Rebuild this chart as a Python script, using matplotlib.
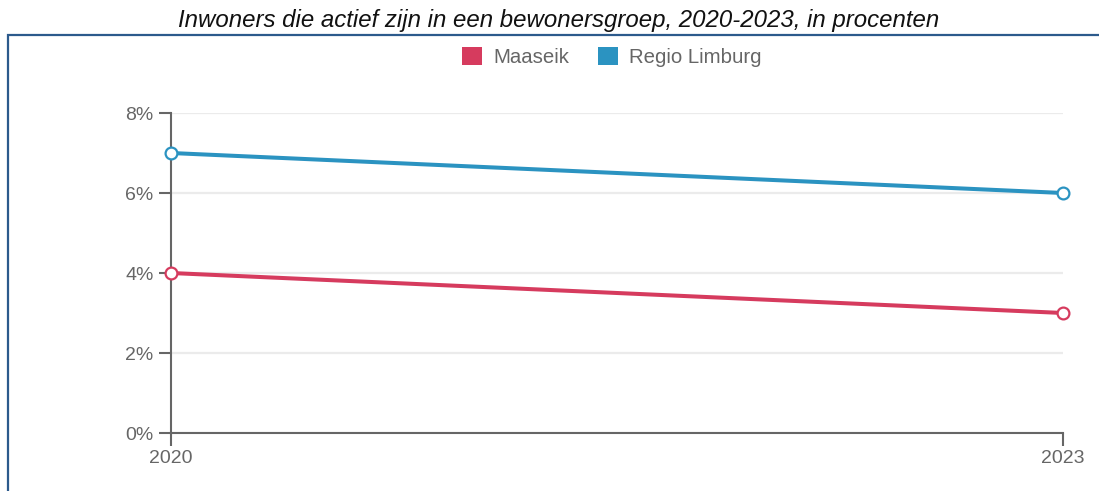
#! /usr/bin/env python3
# -*- coding: utf-8 -*-
import matplotlib
matplotlib.use('Agg')
import matplotlib.pyplot as plt
from matplotlib.patches import Rectangle, Patch
from matplotlib.ticker import FuncFormatter

plt.rcParams['font.family'] = ['Liberation Sans', 'DejaVu Sans']

Title = 'Inwoners die actief zijn in een bewonersgroep, 2020-2023, in procenten'
Years = [2020, 2023]
Series_names = ['Maaseik', 'Regio Limburg']
Maaseik = [4, 3]
Regio_limburg = [7, 6]
Y_ticks = [0, 2, 4, 6, 8]

Colors = ['#d63b5e', '#2b93c1']
Axis_color = '#666666'


def plotTrend():
    fig = plt.figure(figsize=(10.99, 4.91), dpi=100)

    # outer frame, only top and left edges fall inside the canvas
    frame = Rectangle((8 / 1099, -0.1), 1.2, 1.1 - 35 / 491, transform=fig.transFigure,
                      fill=False, edgecolor='#2c5a8c', lw=1.6, clip_on=False)
    fig.patches.append(frame)

    fig.text(559 / 1099, 1 - 20.5 / 491, Title, ha='center', va='center', fontsize=17.3,
             style='italic', color='#111111')

    ax = fig.add_axes([171 / 1099, 1 - 433 / 491, (1063 - 171) / 1099, (433 - 113) / 491])
    for ind, values in enumerate([Maaseik, Regio_limburg]):
        ax.plot(Years, values, color=Colors[ind], lw=2.9, marker='o', ms=8.5,
                mfc='white', mec=Colors[ind], mew=1.6, zorder=3, clip_on=False)

    ax.set_xlim(Years[0], Years[-1])
    ax.set_ylim(Y_ticks[0], Y_ticks[-1])
    ax.set_xticks(Years)
    ax.set_yticks(Y_ticks)
    ax.yaxis.set_major_formatter(FuncFormatter(lambda v, p: '%d%%' % v))

    ax.grid(axis='y', color='#ebebeb', lw=1.6, zorder=0)
    ax.set_axisbelow(True)
    for side in ['top', 'right']:
        ax.spines[side].set_visible(False)
    for side in ['left', 'bottom']:
        ax.spines[side].set_color(Axis_color)
        ax.spines[side].set_linewidth(1.5)
    ax.tick_params(axis='both', length=9, width=1.5, color=Axis_color,
                   labelcolor=Axis_color, labelsize=14, pad=3.5)

    handles = [Patch(facecolor=c, edgecolor='none') for c in Colors]
    fig.legend(handles, Series_names, loc='center', bbox_to_anchor=(612 / 1099, 1 - 57 / 491),
               ncol=2, frameon=False, fontsize=14.7, labelcolor=Axis_color,
               handlelength=0.95, handleheight=0.95, handletextpad=0.55, columnspacing=1.45)

    fig.savefig('out.png', dpi=100)
    return


def main():
    plotTrend()


if __name__ == '__main__':
    main()
